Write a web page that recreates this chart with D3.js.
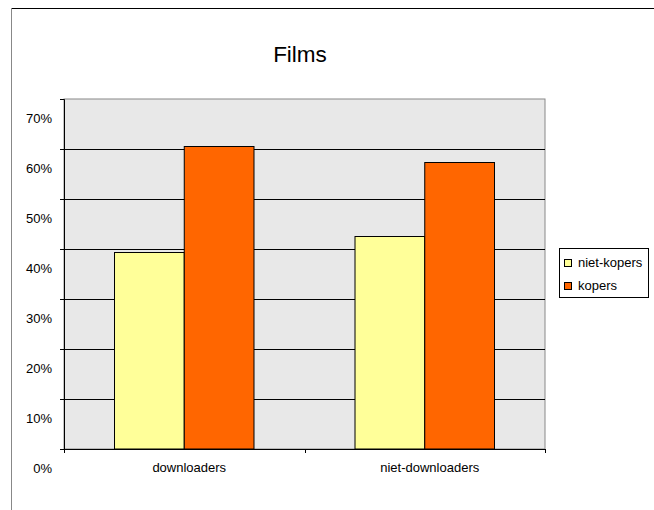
<!DOCTYPE html>
<html><head><meta charset="utf-8">
<script src="https://cdn.jsdelivr.net/npm/d3@7"></script>
<style>body{margin:0;background:#fff}svg{display:block;font-family:Arial,"Liberation Sans",sans-serif}</style>
</head><body>
<svg id="c" width="654" height="510"></svg>
<script>
const title = "Films";
const categories = ["downloaders", "niet-downloaders"];
const seriesNames = ["niet-kopers", "kopers"];
const nietKopers = [0.393, 0.425];
const kopers = [0.605, 0.573];
const yTicks = [0, 0.1, 0.2, 0.3, 0.4, 0.5, 0.6, 0.7];
const colors = ["#FFFF99", "#FF6600"];

const svg = d3.select("#c");
const L = 64, R = 545, T = 99, B = 449;

// chart border
svg.append("line").attr("x1",11.5).attr("x2",654).attr("y1",8.5).attr("y2",8.5).attr("stroke","#000");
svg.append("line").attr("x1",11.5).attr("x2",11.5).attr("y1",8).attr("y2",510).attr("stroke","#888");

svg.append("text").attr("x",300).attr("y",62).attr("text-anchor","middle").attr("font-size",22.5).text(title);

const y = d3.scaleLinear().domain([0,0.7]).range([B,T]);
const x0 = d3.scaleBand().domain(categories).range([L,R]).paddingInner(0.42).paddingOuter(0.21);
const x1 = d3.scaleBand().domain(seriesNames).range([0,x0.bandwidth()]);

svg.append("rect").attr("x",L).attr("y",T).attr("width",R-L).attr("height",B-T).attr("fill","#E8E8E8").attr("stroke","#888");

// gridlines
svg.append("g").selectAll("line").data(yTicks.filter(d=>d>0 && d<0.7)).join("line")
  .attr("x1",L).attr("x2",R).attr("y1",d=>Math.round(y(d))+0.5).attr("y2",d=>Math.round(y(d))+0.5).attr("stroke","#000");

// y axis
const ya = svg.append("g").attr("transform",`translate(${L},0)`)
  .call(d3.axisLeft(y).tickValues(yTicks).tickSize(4).tickFormat(d3.format(".0%")));
ya.select(".domain").attr("stroke","#000");
ya.selectAll(".tick line").attr("stroke","#000");
ya.selectAll(".tick text").attr("font-size",13).attr("font-family","Arial").attr("fill","#000")
  .attr("x",-12).attr("dy",0).attr("y",23);

// x axis
const xa = svg.append("g").attr("transform",`translate(0,${B})`);
xa.append("line").attr("x1",L).attr("x2",R).attr("y1",0.5).attr("y2",0.5).attr("stroke","#000");
const xt = [L, (L+R)/2, R];
xa.selectAll("line.t").data(xt).join("line").attr("class","t")
  .attr("x1",d=>Math.round(d)+0.5).attr("x2",d=>Math.round(d)+0.5).attr("y1",0).attr("y2",4).attr("stroke","#000");
xa.selectAll("text").data(categories).join("text")
  .attr("x",d=>x0(d)+x0.bandwidth()/2+5).attr("y",22.5).attr("text-anchor","middle").attr("font-size",13).text(d=>d);

// bars
const rows = categories.map((c,i)=>({cat:c, vals:[nietKopers[i], kopers[i]]}));
svg.append("g").selectAll("g").data(rows).join("g")
  .attr("transform",d=>`translate(${x0(d.cat)},0)`)
  .selectAll("rect").data(d=>d.vals.map((v,j)=>({s:seriesNames[j], v, j}))).join("rect")
  .attr("x",d=>x1(d.s)).attr("width",x1.bandwidth())
  .attr("y",d=>y(d.v)).attr("height",d=>B-y(d.v))
  .attr("fill",d=>colors[d.j]).attr("stroke","#000").attr("stroke-width",1);

// legend
const lg = svg.append("g");
lg.append("rect").attr("x",559.5).attr("y",248.5).attr("width",89).attr("height",49).attr("fill","#fff").attr("stroke","#000");
seriesNames.forEach((s,i)=>{
  lg.append("rect").attr("x",564.5).attr("y",259.5+i*23).attr("width",7).attr("height",7).attr("fill",colors[i]).attr("stroke","#000");
  lg.append("text").attr("x",578).attr("y",267+i*23).attr("font-size",13).text(s);
});
</script>
</body></html>
